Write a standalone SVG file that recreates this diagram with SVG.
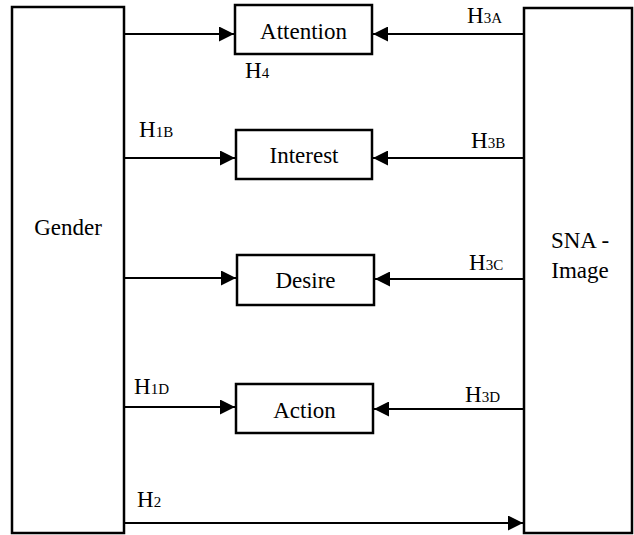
<svg xmlns="http://www.w3.org/2000/svg" width="634" height="535" viewBox="0 0 634 535" font-family="'Liberation Serif', 'Times New Roman', serif">
<style>
.box{fill:#fff;stroke:#000;stroke-width:2.5}
.ln{stroke:#000;stroke-width:2;fill:none}
.t{font-size:23px;fill:#000;font-family:'Liberation Serif','Times New Roman',serif}
.s{font-size:15px}
</style>
<defs>
<marker id="ah" viewBox="0 0 10 10" refX="10" refY="5" markerWidth="7.5" markerHeight="7.5" orient="auto" markerUnits="strokeWidth">
<path d="M0,0 L10,5 L0,10 Z" fill="#000"/>
</marker>
</defs>
<rect width="634" height="535" fill="#fff"/>
<g id="gender"><rect class="box" x="12" y="7" width="112" height="526"/><text class="t" x="68" y="235" text-anchor="middle">Gender</text></g>
<g id="sna"><rect class="box" x="524" y="8" width="108" height="525"/><text class="t" x="580" y="248" text-anchor="middle">SNA -</text><text class="t" x="580" y="278" text-anchor="middle">Image</text></g>
<g id="attention"><rect class="box" x="235" y="5" width="137" height="49"/><text class="t" x="303.5" y="39" text-anchor="middle">Attention</text></g>
<g id="interest"><rect class="box" x="236" y="130" width="136" height="49"/><text class="t" x="304" y="163" text-anchor="middle">Interest</text></g>
<g id="desire"><rect class="box" x="237" y="255" width="137" height="50"/><text class="t" x="305.5" y="288" text-anchor="middle">Desire</text></g>
<g id="action"><rect class="box" x="236" y="384" width="137" height="49"/><text class="t" x="304.5" y="418" text-anchor="middle">Action</text></g>
<g id="connectors">
<line class="ln" x1="124" y1="34" x2="234" y2="34" marker-end="url(#ah)"/>
<line class="ln" x1="524" y1="34" x2="373" y2="34" marker-end="url(#ah)"/>
<line class="ln" x1="124" y1="158" x2="235" y2="158" marker-end="url(#ah)"/>
<line class="ln" x1="524" y1="158" x2="373" y2="158" marker-end="url(#ah)"/>
<line class="ln" x1="124" y1="278" x2="236" y2="278" marker-end="url(#ah)"/>
<line class="ln" x1="524" y1="279" x2="375" y2="279" marker-end="url(#ah)"/>
<line class="ln" x1="124" y1="407" x2="235" y2="407" marker-end="url(#ah)"/>
<line class="ln" x1="524" y1="409" x2="374" y2="409" marker-end="url(#ah)"/>
<line class="ln" x1="124" y1="523" x2="523" y2="523" marker-end="url(#ah)"/>
</g>
<g id="labels">
<text class="t" x="245" y="78">H<tspan class="s">4</tspan></text>
<text class="t" x="139" y="137">H<tspan class="s">1B</tspan></text>
<text class="t" x="467" y="23">H<tspan class="s">3A</tspan></text>
<text class="t" x="471" y="148">H<tspan class="s">3B</tspan></text>
<text class="t" x="469" y="270">H<tspan class="s">3C</tspan></text>
<text class="t" x="465" y="402">H<tspan class="s">3D</tspan></text>
<text class="t" x="134" y="394">H<tspan class="s">1D</tspan></text>
<text class="t" x="137" y="507">H<tspan class="s">2</tspan></text>
</g>
</svg>
